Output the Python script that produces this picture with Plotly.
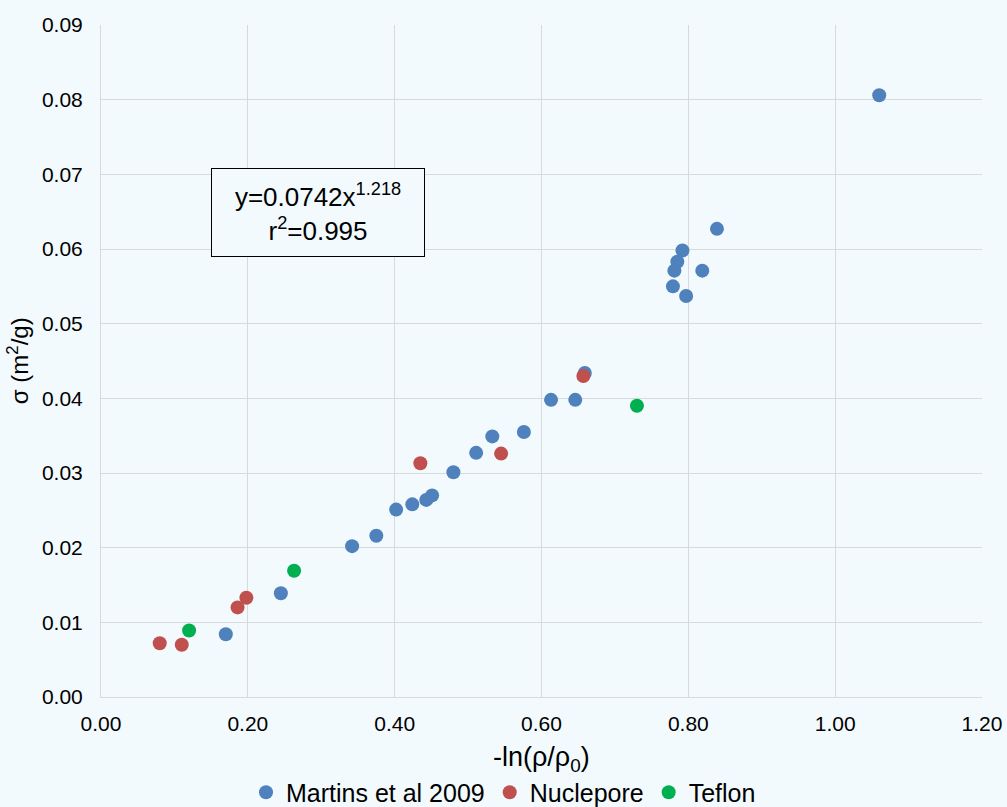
import plotly.graph_objects as go

martins_x = [0.170, 0.245, 0.342, 0.375, 0.402, 0.424, 0.443, 0.451, 0.480, 0.511, 0.533, 0.576,
             0.613, 0.646, 0.659, 0.779, 0.781, 0.785, 0.792, 0.797, 0.819, 0.839, 1.060]
martins_y = [0.0084, 0.0139, 0.0202, 0.0216, 0.0251, 0.0258, 0.0264, 0.0270, 0.0301, 0.0327, 0.0349, 0.0355,
             0.0398, 0.0398, 0.0434, 0.0550, 0.0571, 0.0583, 0.0598, 0.0537, 0.0571, 0.0627, 0.0806]
nucle_x = [0.080, 0.110, 0.186, 0.198, 0.435, 0.545, 0.657]
nucle_y = [0.0072, 0.0070, 0.0120, 0.0133, 0.0313, 0.0326, 0.0430]
teflon_x = [0.120, 0.263, 0.730]
teflon_y = [0.0089, 0.0169, 0.0390]

x_ticks = [0.0, 0.2, 0.4, 0.6, 0.8, 1.0, 1.2]
y_ticks = [0.0, 0.01, 0.02, 0.03, 0.04, 0.05, 0.06, 0.07, 0.08, 0.09]

BG = "#F2FAFD"
FONT = "Liberation Sans, Arial, sans-serif"

fig = go.Figure()
for name, xs, ys, col in [("Martins et al 2009", martins_x, martins_y, "#4F81BD"),
                          ("Nuclepore", nucle_x, nucle_y, "#C0504D"),
                          ("Teflon", teflon_x, teflon_y, "#00B050")]:
    fig.add_trace(go.Scatter(x=xs, y=ys, mode="markers", name=name,
                             marker=dict(color=col, size=14, line=dict(width=0))))

fig.update_layout(
    width=1007, height=807,
    margin=dict(l=101, r=25, t=25, b=110, autoexpand=False),
    paper_bgcolor=BG, plot_bgcolor=BG,
    font=dict(family=FONT, size=21, color="#000000"),
    showlegend=True,
    legend=dict(orientation="h", xref="container", x=0.5, xanchor="center",
                yref="container", y=0.018, yanchor="middle",
                font=dict(size=25), traceorder="normal", itemsizing="trace",
                bgcolor="rgba(0,0,0,0)", tracegroupgap=0),
    xaxis=dict(range=[0, 1.2], tickvals=x_ticks, ticktext=[f"{v:.2f}" for v in x_ticks],
               showgrid=True, gridcolor="#D9D9D9", gridwidth=1,
               showline=True, linecolor="#D9D9D9", linewidth=1, zeroline=False,
               ticks="outside", ticklen=8, tickcolor="rgba(0,0,0,0)", tickfont=dict(size=21)),
    yaxis=dict(range=[0, 0.09], tickvals=y_ticks, ticktext=[f"{v:.2f}" for v in y_ticks],
               showgrid=True, gridcolor="#D9D9D9", gridwidth=1,
               showline=True, linecolor="#D9D9D9", linewidth=1, zeroline=False,
               ticks="outside", ticklen=13, tickcolor="rgba(0,0,0,0)", tickfont=dict(size=21)),
)

fig.add_annotation(text="-ln(ρ/ρ<sub>0</sub>)", xref="paper", yref="paper", x=0.5, y=-0.093,
                   xanchor="center", yanchor="middle", showarrow=False, font=dict(size=27))
fig.add_annotation(text="σ (m<sup>2</sup>/g)", xref="paper", yref="paper", x=-0.094, y=0.5,
                   xanchor="center", yanchor="middle", textangle=-90, showarrow=False, font=dict(size=24))
fig.add_annotation(text="y=0.0742x<sup>1.218</sup><br>r<sup>2</sup>=0.995", xref="x", yref="y",
                   x=0.296, y=0.0649, xanchor="center", yanchor="middle", showarrow=False,
                   font=dict(size=26), bordercolor="#000000", borderwidth=1, borderpad=0,
                   bgcolor=BG, width=212, height=87, align="center")

fig.write_html("out.html")
